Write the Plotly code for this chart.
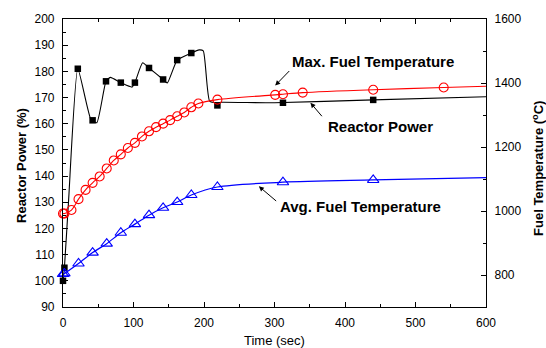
import plotly.graph_objects as go

# ---- Reactor power (%) ----
power_line_t = [0, 2, 8, 21, 40, 48, 61, 67, 82, 98, 102, 113, 122, 142, 148, 162, 182, 193, 199, 208, 219, 225, 300, 440, 600]
power_line_v = [100, 105, 131, 181, 161.3, 160.4, 176.2, 177.7, 175.7, 174, 175.7, 183.3, 181.3, 176.9, 175.6, 184.3, 187, 188.2, 187.8, 168.6, 168.0, 168.2, 168, 169.1, 170.3]
power_mark_t = [0, 2, 21, 42, 61, 82, 102, 122, 142, 162, 182, 219, 312, 440]
power_mark_v = [100, 105, 181, 161.3, 176.2, 175.7, 175.7, 181.3, 176.9, 184.3, 187, 167, 168, 169.1]

# ---- Max. fuel temperature (C) ----
tmax_t = [0, 2, 12, 22, 32, 42, 52, 62, 72, 82, 92, 102, 112, 122, 132, 142, 152, 162, 172, 182, 192, 219, 301, 312, 340, 440, 540]
tmax_v = [992, 992, 1003, 1037, 1066, 1088, 1108, 1133, 1158, 1177, 1197, 1213, 1233, 1249, 1262, 1273, 1284, 1296, 1308, 1324, 1336, 1348, 1363, 1365, 1370, 1379, 1386]
tmax_end_t = [600]
tmax_end_v = [1390]

# ---- Avg. fuel temperature (C) ----
tavg_t = [0, 2, 22, 42, 62, 82, 102, 122, 142, 162, 182, 219, 312, 440]
tavg_v = [803, 805, 836, 870, 898, 932, 959, 987, 1010, 1028, 1050, 1075, 1090, 1097]
tavg_end_t = [600]
tavg_end_v = [1104]

FONT = "Arial, Liberation Sans, sans-serif"

fig = go.Figure()

# lines
fig.add_trace(go.Scatter(x=power_line_t, y=power_line_v, mode="lines",
                         line=dict(color="black", width=1.1, shape="spline", smoothing=0.5),
                         yaxis="y", hoverinfo="skip"))
fig.add_trace(go.Scatter(x=tmax_t + tmax_end_t, y=tmax_v + tmax_end_v, mode="lines",
                         line=dict(color="#ff0000", width=1.1, shape="spline", smoothing=0.8),
                         yaxis="y2", hoverinfo="skip"))
fig.add_trace(go.Scatter(x=tavg_t + tavg_end_t, y=tavg_v + tavg_end_v, mode="lines",
                         line=dict(color="#0000ff", width=1.2, shape="spline", smoothing=0.8),
                         yaxis="y2", hoverinfo="skip"))

# markers
fig.add_trace(go.Scatter(x=power_mark_t, y=power_mark_v, mode="markers", cliponaxis=False,
                         marker=dict(symbol="square", size=6.5, color="black"), yaxis="y"))
fig.add_trace(go.Scatter(x=tmax_t, y=tmax_v, mode="markers", cliponaxis=False,
                         marker=dict(symbol="circle-open", size=9, color="#ff0000", line=dict(width=1.1)),
                         yaxis="y2"))
fig.add_trace(go.Scatter(x=tavg_t, y=tavg_v, mode="markers", cliponaxis=False,
                         marker=dict(symbol="triangle-up-open", size=10, color="#0000ff", line=dict(width=1.1)),
                         yaxis="y2"))

axis_common = dict(showgrid=False, zeroline=False, showline=True, linecolor="black", linewidth=1.2,
                   ticks="inside", tickcolor="black", tickwidth=1, ticklen=5,
                   tickfont=dict(family=FONT, size=12, color="black"))

fig.update_layout(
    width=546, height=348,
    margin=dict(l=63, r=60, t=17, b=41),
    paper_bgcolor="white", plot_bgcolor="white",
    showlegend=False,
    font=dict(family=FONT, color="black"),
    xaxis=dict(range=[0, 600], dtick=100, mirror="ticks",
               minor=dict(dtick=50, ticks="inside", ticklen=3, tickcolor="black"),
               ticklabelstandoff=4, **axis_common),
    yaxis=dict(range=[90, 200], dtick=10,
               minor=dict(dtick=5, ticks="inside", ticklen=3, tickcolor="black"),
               ticklabelstandoff=5, **axis_common),
    yaxis2=dict(range=[700, 1600], dtick=200, tick0=800, overlaying="y", side="right",
                minor=dict(dtick=100, ticks="inside", ticklen=3, tickcolor="black"),
                ticklabelstandoff=5, **axis_common),
)

ann_font = dict(family=FONT, size=15, color="black")
title_font = dict(family=FONT, size=13, color="black")

# axis titles
fig.add_annotation(text="<b>Reactor Power (%)</b>", xref="paper", yref="paper",
                   x=(22 - 63) / 423, y=(307 - 165) / 290, textangle=-90,
                   showarrow=False, font=title_font, xanchor="center", yanchor="middle")
fig.add_annotation(text="<b>Fuel Temperature (<sup>o</sup>C)</b>", xref="paper", yref="paper",
                   x=(538 - 63) / 423, y=(307 - 168) / 290, textangle=-90,
                   showarrow=False, font=title_font, xanchor="center", yanchor="middle")
fig.add_annotation(text="Time (sec)", xref="paper", yref="paper",
                   x=0.5, y=(307 - 341) / 290,
                   showarrow=False, font=title_font, xanchor="center", yanchor="middle")

# series labels
fig.add_annotation(text="<b>Max. Fuel Temperature</b>", x=440, y=183.8, xref="x", yref="y",
                   showarrow=False, font=ann_font)
fig.add_annotation(text="<b>Reactor Power</b>", x=450, y=159.1, xref="x", yref="y",
                   showarrow=False, font=ann_font)
fig.add_annotation(text="<b>Avg. Fuel Temperature</b>", x=421.4, y=128.2, xref="x", yref="y",
                   showarrow=False, font=ann_font)

# arrows
for (hx, hy, tx, ty) in [(301, 174.6, 323, 180.7), (351, 168, 369, 162.3), (277.8, 136.1, 304.5, 130)]:
    fig.add_annotation(x=hx, y=hy, ax=tx, ay=ty, xref="x", yref="y", axref="x", ayref="y",
                       text="", showarrow=True, arrowhead=2, arrowsize=1, arrowwidth=1, arrowcolor="black")

fig.write_html("out.html", config={"displayModeBar": False},
               post_script="document.body.style.margin='0px';document.body.style.overflow='hidden';")
